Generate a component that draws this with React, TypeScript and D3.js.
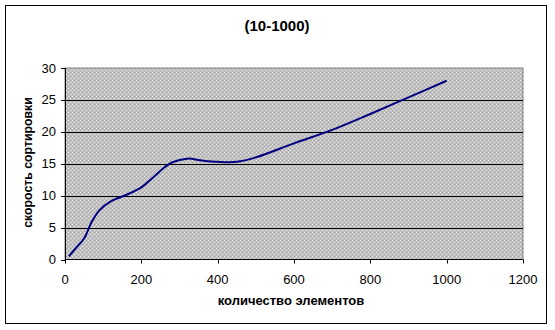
import React from "react";
import * as d3 from "d3";

const xValues = [10, 30, 50, 70, 90, 120, 160, 200, 230, 260, 280, 320, 360, 400, 450, 500, 600, 700, 800, 900, 1000];
const yValues = [0.5, 1.9, 3.3, 5.9, 7.7, 9.1, 10.1, 11.3, 12.8, 14.4, 15.2, 15.8, 15.5, 15.3, 15.3, 16.0, 18.2, 20.3, 22.8, 25.4, 28.0];
const xTicks = [0, 200, 400, 600, 800, 1000, 1200];
const yTicks = [0, 5, 10, 15, 20, 25, 30];
const title = "(10-1000)";
const xTitle = "количество элементов";
const yTitle = "скорость сортировки";

export default function App() {
  const W = 555, H = 330;
  const left = 65, right = 523, top = 68, bottom = 259.5;
  const x = d3.scaleLinear().domain([0, 1200]).range([left, right]);
  const y = d3.scaleLinear().domain([0, 30]).range([bottom, top]);
  const pts: [number, number][] = xValues.map((v, i) => [v, yValues[i]]);
  const line = d3.line<[number, number]>().x(d => x(d[0])).y(d => y(d[1])).curve(d3.curveCatmullRom.alpha(0.5));
  const font = "'Liberation Sans', Arial, sans-serif";
  return (
    <svg width={W} height={H} style={{ position: "absolute", left: 0, top: 0 }}>
      <defs>
        <pattern id="dots" width="4" height="4" patternUnits="userSpaceOnUse">
          <rect width="4" height="4" fill="#c0c0c0" />
          <rect x="0" y="0" width="1" height="1" fill="#e8e8e8" />
          <rect x="2" y="2" width="1" height="1" fill="#e8e8e8" />
          <rect x="2" y="0" width="1" height="1" fill="#a0a0a0" />
          <rect x="0" y="2" width="1" height="1" fill="#b0b0b0" />
        </pattern>
      </defs>
      <rect x={0} y={0} width={W} height={H} fill="#fff" />
      <rect x={5.5} y={5.5} width={541} height={318} fill="#fff" stroke="#000" strokeWidth={1} />
      <text x={277} y={31} textAnchor="middle" fontFamily={font} fontWeight="bold" fontSize={15}>{title}</text>
      <rect x={left} y={top} width={right - left} height={bottom - top} fill="url(#dots)" stroke="#808080" strokeWidth={1} />
      {yTicks.filter(t => t > 0 && t < 30).map(t => (
        <line key={t} x1={left} x2={right} y1={Math.round(y(t)) + 0.5} y2={Math.round(y(t)) + 0.5} stroke="#000" strokeWidth={1} />
      ))}
      <path d={line(pts) || ""} fill="none" stroke="#000080" strokeWidth={2} />
      <line x1={left + 0.5} x2={left + 0.5} y1={top} y2={bottom} stroke="#000" />
      <line x1={left} x2={right} y1={bottom} y2={bottom} stroke="#000" />
      {yTicks.map(t => (
        <g key={t}>
          <line x1={left - 4} x2={left} y1={Math.round(y(t)) + 0.5} y2={Math.round(y(t)) + 0.5} stroke="#000" />
          <text x={56} y={y(t) + 4.5} textAnchor="end" fontFamily={font} fontSize={13}>{t}</text>
        </g>
      ))}
      {xTicks.map(t => (
        <g key={t}>
          <line x1={Math.round(x(t)) + 0.5} x2={Math.round(x(t)) + 0.5} y1={bottom} y2={bottom + 4} stroke="#000" />
          <text x={x(t)} y={284} textAnchor="middle" fontFamily={font} fontSize={13}>{t}</text>
        </g>
      ))}
      <text x={291} y={305} textAnchor="middle" fontFamily={font} fontWeight="bold" fontSize={13}>{xTitle}</text>
      <text transform={`translate(32,${162.5}) rotate(-90)`} textAnchor="middle" fontFamily={font} fontWeight="bold" fontSize={12.3}>{yTitle}</text>
    </svg>
  );
}
